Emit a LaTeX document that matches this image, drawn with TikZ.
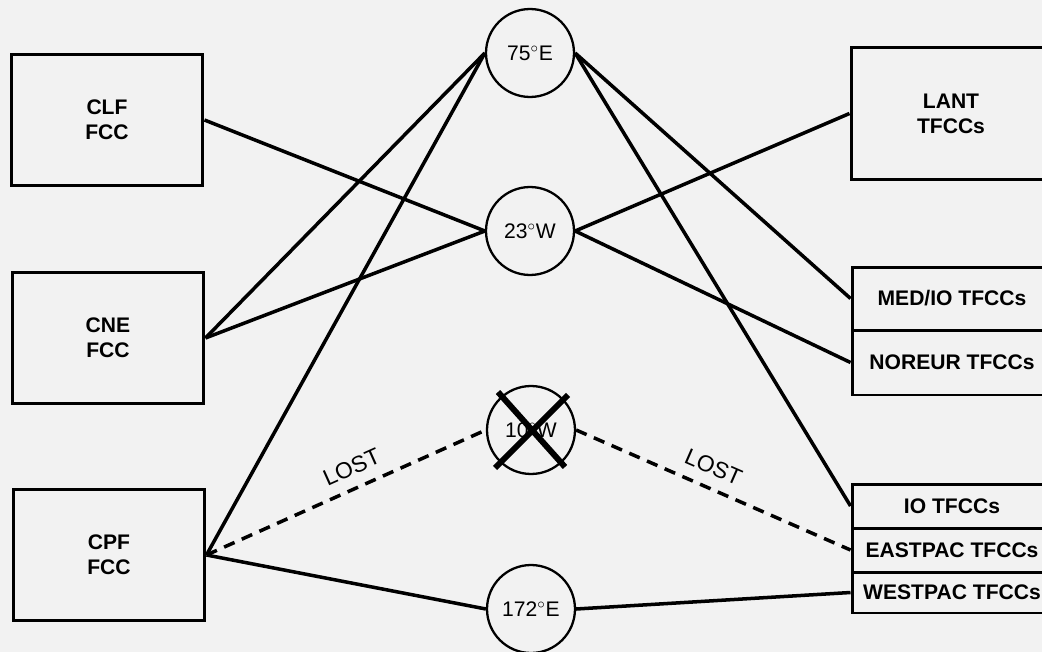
\documentclass[tikz,border=0pt]{standalone}
\usepackage{fontspec}
\setmainfont{Liberation Sans}
\usepackage{tikz}
\usetikzlibrary{positioning}

\begin{document}
\begin{tikzpicture}[x=0.02cm, y=-0.02cm,
    font=\fontsize{12}{14.2}\selectfont,
    fcc/.style={draw, line width=1.7pt, align=center, minimum width=3.84cm, minimum height=2.64cm, font=\fontsize{12}{14.2}\selectfont\bfseries},
    tfcc/.style={draw, line width=1.7pt, align=center, minimum width=4cm, font=\fontsize{12}{14.2}\selectfont\bfseries},
    sat/.style={draw, circle, line width=1.3pt, minimum size=1.76cm, inner sep=0pt},
    link/.style={line width=2pt},
    lost/.style={line width=2pt, dash pattern=on 6.5pt off 4.5pt}]
                        \clip (0, 0) rectangle (1042, 652);
                        \fill[black!5] (0, 0) rectangle (1042, 652);

                        \node[fcc] (clf) at (107, 120) {CLF\\FCC};
                        \node[fcc] (cne) at (108, 338) {CNE\\FCC};
                        \node[fcc] (cpf) at (109, 555) {CPF\\FCC};

                        \node[sat] (e75) at (530, 53) {75$^\circ$E};
                        \node[sat] (w23) at (530, 231) {23$^\circ$W};
                        \node[sat] (w10) at (531, 430) {10$^\circ$W};
                        \node[sat] (e172) at (531, 609) {172$^\circ$E};

                        \node[tfcc, minimum height=2.66cm] (lant) at (951, 113.5) {LANT\\TFCCs};
                        \node[tfcc, minimum height=1.26cm] (medio) at (952, 298.5) {MED/IO TFCCs};
                        \node[tfcc, minimum height=1.3cm] (noreur) at (952, 362.5) {NOREUR TFCCs};
                        \node[tfcc, minimum height=0.88cm] (io) at (952, 506) {IO TFCCs};
                        \node[tfcc, minimum height=0.88cm] (eastpac) at (952, 550) {EASTPAC TFCCs};
                        \node[tfcc, minimum height=0.82cm] (westpac) at (952, 592.5) {WESTPAC TFCCs};

                        \draw[line width=3.4pt]
                        ([shift={(-33,-38)}]w10.center) -- ([shift={(34,37)}]w10.center)
                        ([shift={(37,-35)}]w10.center) -- ([shift={(-36,38)}]w10.center);

                        \draw[link]
                        (clf.east) edge (w23.west)
                        (cne.east) edge (w23.west)
                        (cne.east) edge (e75.west)
                        (cpf.east) edge (e75.west)
                        (cpf.east) edge (e172.west)
                        (e75.east) edge (medio.west)
                        (e75.east) edge (io.west)
                        (w23.east) edge (lant.west)
                        (w23.east) edge (noreur.west)
                        (e172.east) edge (westpac.west);

                        \draw[lost]
                        (cpf.east) edge node[sloped, above=3pt, pos=0.55, font=\fontsize{13}{15}\selectfont]{LOST} (w10.west)
                        (w10.east) edge node[sloped, above=3pt, pos=0.47, font=\fontsize{13}{15}\selectfont]{LOST} (eastpac.west);
                    \end{tikzpicture}
\end{document}
